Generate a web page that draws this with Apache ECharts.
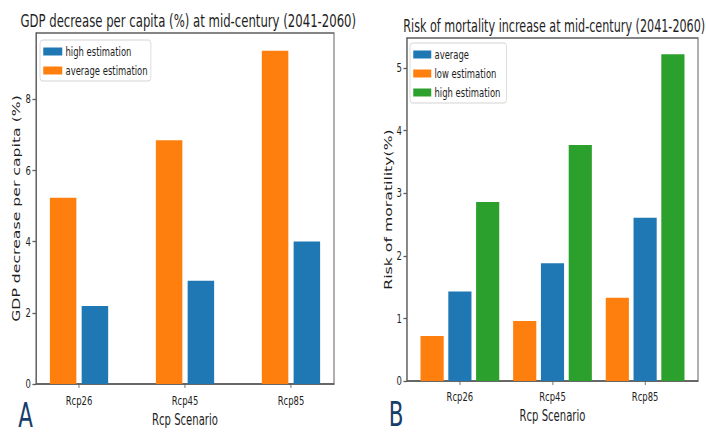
<!DOCTYPE html>
<html>
<head>
<meta charset="utf-8">
<script src="https://cdn.jsdelivr.net/npm/echarts@6/dist/echarts.min.js"></script>
<style>
  html, body { margin: 0; padding: 0; background: #fff; overflow: hidden; }
  #frame { width: 706px; height: 435px; overflow: hidden; position: relative; }
  #chart { height: 435px; position: absolute; left: 0; top: 0; transform-origin: 0 0; }
</style>
</head>
<body>
<div id="frame"><div id="chart"></div></div>
<script>
// Scenario categories shared by both panels
const scenarios = ['Rcp26', 'Rcp45', 'Rcp85'];

// Panel A: GDP decrease per capita (%)
const gdpAverage = [5.23, 6.85, 9.36];
const gdpHigh = [2.19, 2.90, 4.00];
const gdpTicks = [0, 2, 4, 6, 8];

// Panel B: risk of mortality increase (%)
const mortLow = [0.72, 0.96, 1.33];
const mortAverage = [1.43, 1.88, 2.61];
const mortHigh = [2.86, 3.77, 5.22];
const mortTicks = [0, 1, 2, 3, 4, 5];

// The figure is laid out on a wider canvas and squeezed horizontally,
// giving the narrow, tall lettering of the published figure.
const PAGE_W = 706;
const SQUEEZE = 0.65;
const LAYOUT_W = Math.round(PAGE_W / SQUEEZE);
const sx = v => v * LAYOUT_W / PAGE_W;   // page x -> layout x

const BLUE = '#1f77b4', ORANGE = '#ff7f0e', GREEN = '#2ca02c';
const FONT = '"DejaVu Sans", sans-serif';
const AXIS_COLOR = '#5e5e5e';
const TEXT_COLOR = '#1e1e1e';
const catIndex = scenarios.map((_, i) => i);

function toPoints(values) {
  return values.map((v, i) => [i, v]);
}

function xAxisFor(gridIndex, pad, labelMargin, nameGap) {
  return {
    type: 'value',
    gridIndex,
    min: -pad,
    max: scenarios.length - 1 + pad,
    name: 'Rcp Scenario',
    nameLocation: 'middle',
    nameGap,
    nameTextStyle: { fontFamily: FONT, fontSize: 15.5, color: TEXT_COLOR },
    axisLine: { onZero: false, lineStyle: { color: AXIS_COLOR, width: 1.5 } },
    axisTick: { customValues: catIndex, length: 4, lineStyle: { color: AXIS_COLOR, width: 1.3 } },
    axisLabel: {
      customValues: catIndex,
      formatter: v => scenarios[Math.round(v)],
      fontFamily: FONT, fontSize: 13, color: TEXT_COLOR, margin: labelMargin
    },
    splitLine: { show: false }
  };
}

function yAxisFor(gridIndex, max, ticks, name, gap) {
  return {
    type: 'value',
    gridIndex,
    min: 0,
    max,
    name,
    nameLocation: 'middle',
    nameRotate: 90,
    nameGap: gap,
    nameTextStyle: { fontFamily: FONT, fontSize: 15.7, color: TEXT_COLOR },
    axisLine: { show: true, onZero: false, lineStyle: { color: AXIS_COLOR, width: 1.5 } },
    axisTick: { show: true, customValues: ticks, length: 5.5, lineStyle: { color: AXIS_COLOR, width: 1.3 } },
    axisLabel: { customValues: ticks, fontFamily: FONT, fontSize: 13, color: TEXT_COLOR, margin: 8 },
    splitLine: { show: false }
  };
}

function barSeries(name, values, color, axisIndex) {
  return {
    type: 'bar',
    name,
    xAxisIndex: axisIndex,
    yAxisIndex: axisIndex,
    data: toPoints(values),
    barWidth: '25%',
    barGap: '20%',
    itemStyle: { color },
    emphasis: { disabled: true }
  };
}

const legendBase = {
  orient: 'vertical',
  itemHeight: 8,
  itemGap: 6,
  backgroundColor: '#fff',
  borderColor: '#d4d4d4',
  borderWidth: 1.2,
  borderRadius: 4,
  icon: 'rect',
  selectedMode: false,
  textStyle: { fontFamily: FONT, fontSize: 13, color: TEXT_COLOR }
};

const titleStyle = { fontFamily: FONT, fontSize: 18, fontWeight: 'normal', color: TEXT_COLOR };
const panelLetterStyle = { fontFamily: FONT, fontSize: 33, fontWeight: 'normal', color: '#173e6b' };

const option = {
  animation: false,
  backgroundColor: '#fff',
  title: [
    {
      text: 'GDP decrease per capita (%) at mid-century (2041-2060)',
      left: sx(185), top: 7, textAlign: 'center', textStyle: titleStyle
    },
    {
      text: 'Risk of mortality increase at mid-century (2041-2060)',
      left: sx(551), top: 12.5, textAlign: 'center',
      textStyle: Object.assign({}, titleStyle, { fontSize: 17.2 })
    },
    { text: 'A', left: sx(15), top: 394.5, textStyle: panelLetterStyle },
    { text: 'B', left: sx(385.5), top: 393, textStyle: panelLetterStyle }
  ],
  grid: [
    { left: sx(36), right: LAYOUT_W - sx(334), top: 33, bottom: 51,
      show: true, borderColor: AXIS_COLOR, borderWidth: 1.5 },
    { left: sx(407), right: LAYOUT_W - sx(698), top: 38, bottom: 54,
      show: true, borderColor: AXIS_COLOR, borderWidth: 1.5 }
  ],
  legend: [
    Object.assign({}, legendBase, {
      data: ['high estimation', 'average estimation'],
      left: sx(40), top: 40,
      itemWidth: sx(19),
      padding: [5, 5, 4, 5]
    }),
    Object.assign({}, legendBase, {
      data: ['average', 'low estimation', 'high estimation '],
      left: sx(410), top: 43,
      itemWidth: sx(18),
      padding: [5, 5, 4, 5]
    })
  ],
  xAxis: [xAxisFor(0, 0.406, 10, 27), xAxisFor(1, 0.571, 9, 26)],
  yAxis: [
    yAxisFor(0, 9.86, gdpTicks, 'GDP decrease per capita (%)', 22.5),
    yAxisFor(1, 5.48, mortTicks, 'Risk of moratility(%)', 20)
  ],
  series: [
    barSeries('average estimation', gdpAverage, ORANGE, 0),
    barSeries('high estimation', gdpHigh, BLUE, 0),
    barSeries('low estimation', mortLow, ORANGE, 1),
    barSeries('average', mortAverage, BLUE, 1),
    barSeries('high estimation ', mortHigh, GREEN, 1)
  ]
};

const el = document.getElementById('chart');
el.style.width = LAYOUT_W + 'px';
el.style.transform = 'scaleX(' + (PAGE_W / LAYOUT_W) + ')';
const chart = echarts.init(el, null, { renderer: 'svg' });
chart.setOption(option);
</script>
</body>
</html>
